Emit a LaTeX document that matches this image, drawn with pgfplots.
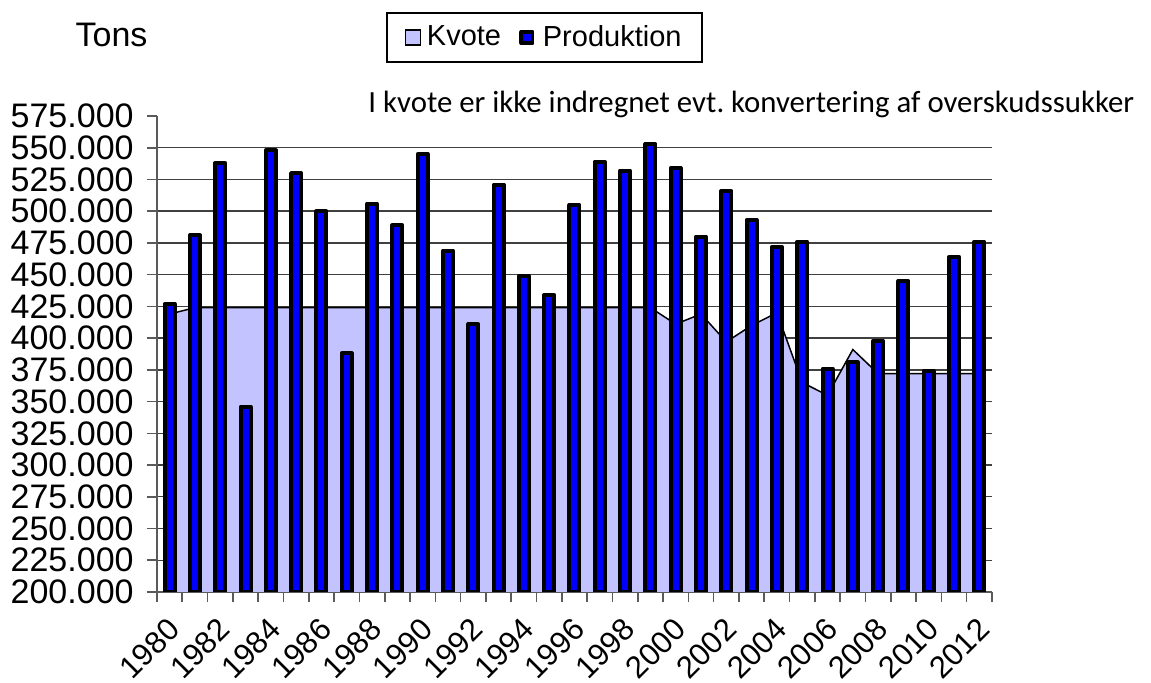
\documentclass[border=0pt]{standalone}
\usepackage{fontspec}
\setmainfont{Liberation Sans}
\newfontfamily\carlito{Carlito}
\usepackage{pgfplots}
\pgfplotsset{compat=1.18}
\usepackage{pgfplotstable}
\definecolor{lav}{RGB}{195,195,255}
\definecolor{barblue}{RGB}{0,0,255}
\definecolor{axgray}{RGB}{90,90,90}

\pgfplotstableread{
x prod kvote
0 427 419
1 481 424
2 538 424
3 346 424
4 548 424
5 530 424
6 500 424
7 388 424
8 506 424
9 489 424
10 545 424
11 469 424
12 411 424
13 521 424
14 449 424
15 434 424
16 505 424
17 539 424
18 532 424
19 553 424
20 534 411
21 480 419
22 516 397
23 493 410
24 472 420
25 476 365
26 376 355
27 381 391
28 398 372
29 445 372
30 374 372
31 464 372
32 476 372
}\datatable

\begin{document}
\frenchspacing
\begin{tikzpicture}
\useasboundingbox (-78.5pt,-45.5pt) rectangle (497pt,296pt);
\begin{axis}[
  at={(0,0)}, anchor=south west,
  scale only axis,
  width=417.5pt, height=238pt,
  xmin=-0.5, xmax=32.5,
  ymin=200, ymax=575,
  axis lines=left,
  axis line style={-, draw=axgray, line width=0.8pt},
  tick align=outside,
  major tick length=5pt,
  minor tick length=5pt,
  tick style={draw=axgray, line width=0.8pt},
  xtick={0,2,...,32},
  xticklabels={1980,1982,1984,1986,1988,1990,1992,1994,1996,1998,2000,2002,2004,2006,2008,2010,2012},
  major x tick style=transparent,
  minor xtick={-0.5,0.5,...,32.5},
  xticklabel style={xshift=-1.7pt, yshift=-5.5pt, rotate=45, anchor=north east, font=\fontsize{15.5}{18}\selectfont, inner sep=1pt},
  ytick={200,225,...,550},
  yticklabels={200.000,225.000,250.000,275.000,300.000,325.000,350.000,375.000,400.000,425.000,450.000,475.000,500.000,525.000,550.000},
  extra y ticks={575},
  extra y tick labels={575.000},
  extra y tick style={grid=none},
  yticklabel style={font=\fontsize{17}{20}\selectfont, inner sep=1pt, xshift=-5.5pt},
  ymajorgrids,
  grid style={draw=black!75, line width=0.7pt},
  /pgf/number format/assume math mode=true,
  legend style={at={(0.464,1.165)}, anchor=center, draw=black, line width=0.75pt,
    font=\fontsize{14.5}{17}\selectfont, legend columns=2,
    inner xsep=9pt, inner ysep=5pt, nodes={inner sep=1.2pt},
    /tikz/every even column/.append style={column sep=8pt}},
  legend cell align=left,
]
\addplot[fill=lav, draw=none,
  legend image code/.code={\draw[fill=lav, draw=black, line width=0.6pt] (0pt,-3.75pt) rectangle (7.5pt,3.75pt); \path (9.5pt,0pt);}]
  table[x=x, y=kvote]{\datatable} \closedcycle;
\addlegendentry{Kvote}
\addplot[draw=black, line width=0.75pt, forget plot] table[x=x, y=kvote]{\datatable};
\addplot[ybar, bar width=5pt, fill=barblue, draw=black, line width=2pt, line join=round,
  legend image code/.code={\draw[fill=barblue, draw=black, line width=1.8pt] (0.9pt,-2.85pt) rectangle (6.6pt,2.85pt); \path (9.5pt,0pt);}]
  table[x=x, y=prod]{\datatable};
\addlegendentry{Produktion}
\end{axis}
\node[font=\fontsize{17}{20}\selectfont] at (-22.75pt,278.75pt) {Tons};
\node[font=\carlito\fontsize{15.4}{18}\selectfont, anchor=base west, inner sep=0pt] at (105.5pt,239.5pt) {I kvote er ikke indregnet evt. konvertering af overskudssukker};
\end{tikzpicture}
\end{document}
